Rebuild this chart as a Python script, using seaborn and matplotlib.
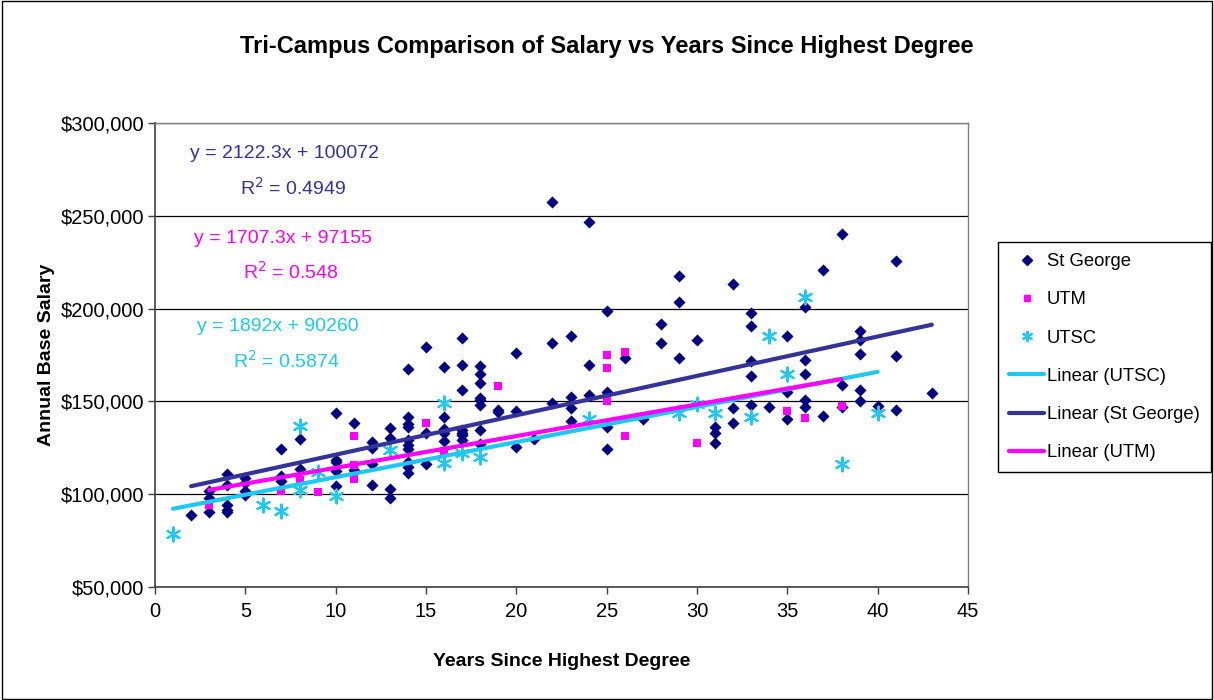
import matplotlib
matplotlib.use("Agg")
import matplotlib.pyplot as plt
from matplotlib import font_manager
import seaborn as sns
import pandas as pd
import numpy as np
from matplotlib.patches import Rectangle
from matplotlib.lines import Line2D
from matplotlib.ticker import FuncFormatter

sns.set_theme(style="white")
plt.rcParams['font.family'] = ['Liberation Sans', 'DejaVu Sans']
plt.rcParams['text.color'] = 'black'
plt.rcParams['axes.labelcolor'] = 'black'
plt.rcParams['xtick.color'] = 'black'
plt.rcParams['ytick.color'] = 'black'

# ---- data ----
sg_x = [2, 3, 3, 3, 4, 4, 4, 4, 4, 5, 5, 5, 5, 7, 7, 7, 8, 8,
        10, 10, 10, 10, 10, 11, 11, 12, 12, 12, 12, 13, 13, 13, 13,
        14, 14, 14, 14, 14, 14, 14, 14, 14, 14, 15, 15, 15,
        16, 16, 16, 16, 16, 17, 17, 17, 17, 17, 17, 17,
        18, 18, 18, 18, 18, 18, 18, 18, 19, 19, 20, 20, 20, 21,
        22, 22, 22, 23, 23, 23, 23, 24, 24, 24, 25, 25, 25, 25, 26, 27,
        28, 28, 29, 29, 29, 30, 31, 31, 31, 32, 32, 32,
        33, 33, 33, 33, 33, 34, 35, 35, 35, 36, 36, 36, 36, 36, 37, 37,
        38, 38, 38, 39, 39, 39, 39, 39, 40, 41, 41, 41, 43]
sg_y = [89000, 101900, 97900, 90400, 110900, 105000, 94200, 91500, 90300,
        108900, 106200, 101900, 99600, 124200, 109800, 107100, 129700, 113600,
        143600, 118400, 117200, 112700, 104600, 138600, 113000,
        128300, 124700, 116300, 104800, 135700, 130100, 102800, 97800,
        167600, 141800, 137800, 136400, 129200, 126500, 124200, 117500, 114800, 111300,
        179100, 132800, 116300,
        168700, 141400, 134900, 133100, 128800,
        184200, 169600, 156100, 134600, 133100, 131900, 129200,
        169100, 164800, 160100, 151700, 150800, 148100, 134600, 127000,
        145400, 144300, 176200, 144800, 125600, 129600,
        257600, 181300, 149000, 185200, 152200, 146300, 139600,
        246800, 169600, 153400, 198700, 155200, 136400, 124200, 173200, 140300,
        191700, 181300, 217700, 203400, 173600, 183100, 136400, 132800, 127800,
        213100, 146300, 138600,
        197400, 190800, 171800, 163700, 148100, 147200, 185200, 154900, 140500,
        201000, 172300, 164800, 150800, 147200, 220800, 142300,
        240200, 158800, 147200, 188100, 183100, 175400, 156100, 150200, 147700,
        225600, 174500, 145400, 154400]

utm_x = [3, 7, 8, 9, 11, 11, 11, 15, 16, 19, 25, 25, 25, 26, 26, 30, 35, 36, 38]
utm_y = [94200, 101900, 107600, 101350, 131400, 115700, 108200, 138200, 123400,
         158300, 175000, 168200, 150400, 176800, 131400, 127400, 145000, 141200, 147700]

utsc_x = [1, 6, 7, 8, 8, 9, 10, 13, 16, 16, 17, 18, 24, 29, 30, 31, 33, 34, 35, 36, 38, 40]
utsc_y = [78400, 94200, 91100, 136700, 102200, 112100, 99000, 123800, 149300, 116600,
          122000, 120200, 140300, 143600, 148600, 143600, 141400, 185200, 164800,
          206400, 116300, 143600]

campuses = ["St George", "UTM", "UTSC"]
slopes = [2122.3, 1707.3, 1892.0]
intercepts = [100072, 97155, 90260]
r2_values = ["0.4949", "0.548", "0.5874"]
eq_texts = ["y = 2122.3x + 100072", "y = 1707.3x + 97155", "y = 1892x + 90260"]

x_ticks = list(range(0, 46, 5))
y_ticks = [50000, 100000, 150000, 200000, 250000, 300000]

# ---- styles ----
c_sg = "#000080"
c_sg_line = "#333399"
c_utm = "#FF00FF"
c_utsc = "#1FC8F8"
c_utsc_line = "#1EC8F5"

installed = {f.name for f in font_manager.fontManager.ttflist}
if "Liberation Sans Narrow" in installed:
    title_font = dict(family=["Liberation Sans Narrow", "DejaVu Sans"], size=20.5)
else:
    title_font = dict(family=["Liberation Sans", "DejaVu Sans"], size=17)

fig = plt.figure(figsize=(12.14, 7.0), dpi=100)
ax = fig.add_axes([155/1214, 1-587/700, (968-155)/1214, (587-123)/700])

df_sg = pd.DataFrame({"x": sg_x, "y": sg_y})
df_utm = pd.DataFrame({"x": utm_x, "y": utm_y})
df_utsc = pd.DataFrame({"x": utsc_x, "y": utsc_y})

sns.scatterplot(data=df_sg, x="x", y="y", ax=ax, marker="D", color=c_sg,
                s=38, edgecolor=c_sg, linewidth=0, zorder=3, legend=False)
sns.scatterplot(data=df_utm, x="x", y="y", ax=ax, marker="s", color=c_utm,
                s=30, edgecolor=c_utm, linewidth=0, zorder=3, legend=False)
sns.scatterplot(data=df_utsc, x="x", y="y", ax=ax, marker=(6, 2, 0), color=c_utsc,
                s=100, linewidth=1.5, zorder=3, legend=False)

# trend lines (from fitted equations)
def trend(xs, m, b):
    xr = np.array([min(xs), max(xs)], dtype=float)
    return xr, m * xr + b

xr, yr = trend(utsc_x, slopes[2], intercepts[2])
sns.lineplot(x=xr, y=yr, ax=ax, color=c_utsc_line, linewidth=3, zorder=4)
xr, yr = trend(sg_x, slopes[0], intercepts[0])
sns.lineplot(x=xr, y=yr, ax=ax, color=c_sg_line, linewidth=3, zorder=4)
xr, yr = trend(utm_x, slopes[1], intercepts[1])
sns.lineplot(x=xr, y=yr, ax=ax, color=c_utm, linewidth=3, zorder=5)

ax.set_xlim(0, 45)
ax.set_ylim(50000, 300000)
ax.set_xticks(x_ticks)
ax.set_yticks(y_ticks)
ax.yaxis.set_major_formatter(FuncFormatter(lambda v, p: "${:,.0f}".format(v)))
ax.grid(axis="y", color="black", linewidth=0.9)
ax.grid(axis="x", visible=False)
ax.set_axisbelow(True)
for side in ["top", "right"]:
    ax.spines[side].set_color("#808080")
    ax.spines[side].set_linewidth(1)
for side in ["left", "bottom"]:
    ax.spines[side].set_color("#404040")
    ax.spines[side].set_linewidth(1.2)
ax.tick_params(axis="both", which="major", direction="out", length=5, width=1,
               color="#404040", labelcolor="black", labelsize=14.5,
               bottom=True, left=True, pad=3)
ax.tick_params(axis="x", pad=6)

ax.set_xlabel("Years Since Highest Degree", fontsize=14, fontweight="bold", color="black")
ax.set_ylabel("Annual Base Salary", fontsize=14, fontweight="bold", color="black")
ax.xaxis.set_label_coords(0.5, (587-662)/464)
ax.xaxis.label.set_va("center")
ax.yaxis.set_label_coords((46-155)/813, (587-355)/464)
ax.yaxis.label.set_ha("center")
ax.yaxis.label.set_va("center")

# equation annotations
eq_colors = [c_sg_line, c_utm, c_utsc_line]
eq_pos = [(285, 153, 188), (283, 238, 272), (278, 327, 361)]
for txt, r2, col, (px, py1, py2) in zip(eq_texts, r2_values, eq_colors, eq_pos):
    fig.text(px/1214, 1-py1/700, txt, color=col, fontsize=14, ha="center", va="center")
    fig.text((px + 8)/1214, 1-py2/700, "R$^2$ = " + r2, color=col, fontsize=14,
             ha="center", va="center")

fig.text(0.5, 1-47/700, "Tri-Campus Comparison of Salary vs Years Since Highest Degree",
         fontweight="bold", ha="center", va="center", color="black", **title_font)

handles = [
    Line2D([], [], linestyle="none", marker="D", markersize=5, color=c_sg),
    Line2D([], [], linestyle="none", marker="s", markersize=4.5, color=c_utm),
    Line2D([], [], linestyle="none", marker=(6, 2, 0), markersize=8, color=c_utsc,
           markeredgewidth=1.5),
    Line2D([], [], color=c_utsc_line, linewidth=3),
    Line2D([], [], color=c_sg_line, linewidth=3),
    Line2D([], [], color=c_utm, linewidth=3),
]
labels = ["St George", "UTM", "UTSC", "Linear (UTSC)", "Linear (St George)", "Linear (UTM)"]
leg = fig.legend(handles, labels, loc="upper left",
                 bbox_to_anchor=(998/1214, 1-242/700), fontsize=13.3,
                 frameon=True, fancybox=False, edgecolor="black", framealpha=1,
                 handlelength=1.9, handletextpad=0.15, labelspacing=1.15,
                 borderpad=0.6, borderaxespad=0)
leg.get_frame().set_linewidth(1)
for t in leg.get_texts():
    t.set_color("black")

fig.patches.append(Rectangle((0.002, 0.002), 0.996, 0.996, transform=fig.transFigure,
                             fill=False, edgecolor="black", linewidth=1))

fig.savefig("out.png", dpi=100)
